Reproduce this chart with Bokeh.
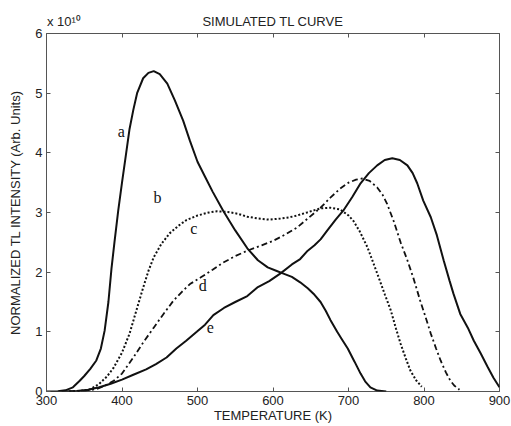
from bokeh.plotting import figure
from bokeh.models import LinearAxis, FixedTicker, Label
from bokeh.embed import file_html
from bokeh.resources import INLINE

# ---- data (intensity in units of 1e10) ----
T_a = [300, 315, 325, 335, 344, 350, 358, 366, 372, 377, 382, 386, 390, 395, 400, 405, 410, 415, 420, 428,
       435, 442, 450, 460, 470, 481, 490, 500, 510, 520, 534, 550, 566, 580, 593, 605, 613, 625, 636, 646,
       655, 663, 670, 676, 685, 692, 699, 708, 716, 722, 729, 738, 750]
V_a = [0, 0.005, 0.02, 0.07, 0.18, 0.26, 0.38, 0.52, 0.72, 1.02, 1.5, 2.05, 2.5, 3.03, 3.5, 3.95, 4.4, 4.72, 5.0, 5.25,
       5.34, 5.37, 5.32, 5.16, 4.88, 4.54, 4.2, 3.85, 3.6, 3.35, 3.03, 2.7, 2.4, 2.2, 2.08, 2.02, 1.98, 1.92, 1.83, 1.73,
       1.62, 1.5, 1.35, 1.2, 1.0, 0.86, 0.72, 0.5, 0.3, 0.17, 0.07, 0.015, 0]

T_c = [330, 345, 357, 370, 380, 389, 400, 410, 420, 428, 435, 442, 452, 463, 475, 485, 500, 515, 526, 540,
       553, 566, 580, 595, 610, 622, 632, 645, 655, 663, 676, 689, 700, 707, 715, 725, 733, 740, 748, 756,
       763, 769, 776, 782, 790, 797]
V_c = [0, 0.01, 0.03, 0.13, 0.25, 0.4, 0.65, 0.97, 1.4, 1.74, 2.02, 2.25, 2.47, 2.65, 2.78, 2.87, 2.95, 3.0, 3.02, 3.01,
       2.98, 2.93, 2.9, 2.88, 2.9, 2.92, 2.95, 3.0, 3.04, 3.07, 3.08, 3.05, 2.95, 2.85, 2.68, 2.42, 2.15, 1.91, 1.63, 1.36,
       1.05, 0.8, 0.55, 0.35, 0.18, 0.08]

T_d = [330, 350, 366, 378, 389, 400, 415, 428, 442, 455, 468, 480, 490, 504, 520, 534, 550, 566, 585, 601,
       616, 632, 648, 663, 676, 689, 700, 710, 718, 728, 738, 745, 751, 760, 769, 778, 786, 795, 802, 809,
       816, 822, 829, 835, 840, 847]
V_d = [0, 0.01, 0.04, 0.1, 0.18, 0.3, 0.57, 0.82, 1.07, 1.3, 1.52, 1.68, 1.8, 1.91, 2.04, 2.16, 2.27, 2.36, 2.45, 2.53,
       2.63, 2.75, 2.92, 3.08, 3.25, 3.4, 3.5, 3.55, 3.57, 3.53, 3.42, 3.3, 3.15, 2.85, 2.5, 2.2, 1.9, 1.52, 1.25, 0.97,
       0.72, 0.52, 0.32, 0.18, 0.1, 0.03]

T_e = [320, 340, 355, 370, 385, 400, 415, 432, 445, 459, 472, 485, 499, 510, 521, 535, 550, 566, 580, 595,
       610, 625, 636, 646, 655, 663, 672, 683, 693, 705, 716, 727, 738, 748, 758, 768, 778, 785, 791, 799,
       809, 817, 826, 834, 839, 848, 858, 866, 875, 884, 892, 900]
V_e = [0, 0.01, 0.03, 0.07, 0.13, 0.2, 0.28, 0.37, 0.46, 0.57, 0.72, 0.85, 1.0, 1.12, 1.28, 1.4, 1.5, 1.6, 1.75, 1.85,
       1.98, 2.13, 2.22, 2.36, 2.45, 2.55, 2.7, 2.88, 3.03, 3.26, 3.49, 3.66, 3.79, 3.88, 3.91, 3.88, 3.79, 3.66, 3.49, 3.2,
       2.92, 2.62, 2.2, 1.85, 1.64, 1.3, 1.07, 0.85, 0.64, 0.42, 0.23, 0.07]

curve_names = ["a", "b", "c", "d", "e"]
name_T = [399, 447, 495, 507, 517]
name_V = [4.36, 3.25, 2.73, 1.78, 1.07]

x_ticks = [300, 400, 500, 600, 700, 800, 900]
y_ticks = [0, 1, 2, 3, 4, 5, 6]

title_text = "SIMULATED TL CURVE"
exponent_text = "x 10\u00b9\u2070"
x_label = "TEMPERATURE (K)"
y_label = "NORMALIZED TL INTENSITY (Arb. Units)"
# where the top texts sit along the temperature axis
title_at = 600
exponent_at = 323

SANS = "Liberation Sans"
SERIF = "Liberation Serif"
INK = "#111111"
TEXT = "#222222"
FRAME = "#555555"
W, H = 511, 426

p = figure(width=W, height=H, x_range=(300, 900), y_range=(0, 6),
           output_backend="svg", toolbar_location=None,
           min_border_left=46, min_border_right=12, min_border_top=33, min_border_bottom=35,
           background_fill_color="white", border_fill_color="white",
           outline_line_color=FRAME, outline_line_width=1)
p.grid.visible = False

def base_style(ax):
    ax.axis_line_color = None
    ax.major_tick_in = 4
    ax.major_tick_out = 0
    ax.minor_tick_in = 0
    ax.minor_tick_out = 0
    ax.major_tick_line_color = FRAME
    ax.minor_tick_line_color = FRAME
    ax.major_label_text_font = SANS
    ax.major_label_text_font_size = "13px"
    ax.major_label_text_color = TEXT
    ax.major_label_standoff = 4
    ax.axis_label_text_font = SANS
    ax.axis_label_text_font_size = "13px"
    ax.axis_label_text_font_style = "normal"
    ax.axis_label_text_color = TEXT

# bottom axis
xb = p.xaxis[0]
base_style(xb)
xb.ticker = FixedTicker(ticks=x_ticks)
xb.axis_label = x_label
xb.axis_label_standoff = 0

# left axis
yl = p.yaxis[0]
base_style(yl)
yl.ticker = FixedTicker(ticks=y_ticks)
yl.axis_label = y_label
yl.axis_label_standoff = 9

# top axis: tick marks (as minor ticks) plus the exponent and title texts
top_ax = LinearAxis()
base_style(top_ax)
top_ax.ticker = FixedTicker(ticks=[exponent_at, title_at], minor_ticks=x_ticks)
top_ax.major_tick_in = 0
top_ax.major_tick_line_color = None
top_ax.minor_tick_in = 4
top_ax.major_label_overrides = {exponent_at: exponent_text, title_at: title_text}
top_ax.major_label_standoff = 5
p.add_layout(top_ax, "above")

# right axis: tick marks only
right_ax = LinearAxis()
base_style(right_ax)
right_ax.ticker = FixedTicker(ticks=[], minor_ticks=y_ticks)
right_ax.minor_tick_in = 4
right_ax.major_label_standoff = 0
p.add_layout(right_ax, "right")

# curves
p.line(T_a, V_a, line_color=INK, line_width=2)
p.line(T_c, V_c, line_color=INK, line_width=2, line_dash="2 2")
p.line(T_d, V_d, line_color=INK, line_width=1.8, line_dash="6 3 2 3")
p.line(T_e, V_e, line_color=INK, line_width=2)

# curve labels
for nm, tx, vy in zip(curve_names, name_T, name_V):
    p.add_layout(Label(x=tx, y=vy, text=nm, text_font=SERIF, text_font_size="16px",
                       text_color=INK, text_align="center", text_baseline="middle"))

open("out.html", "w").write(file_html(p, INLINE))
